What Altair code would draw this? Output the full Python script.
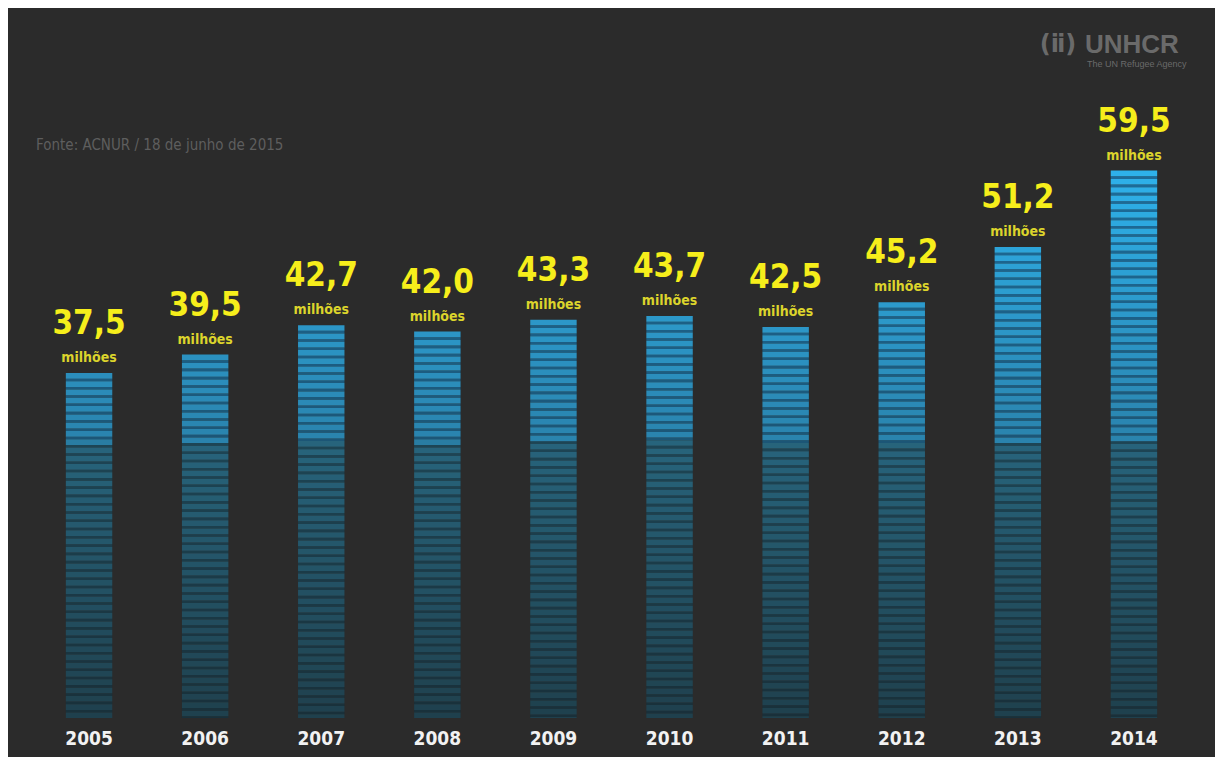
import altair as alt
import pandas as pd

years = ["2005", "2006", "2007", "2008", "2009", "2010", "2011", "2012", "2013", "2014"]
values = [37.5, 39.5, 42.7, 42.0, 43.3, 43.7, 42.5, 45.2, 51.2, 59.5]
unit_label = "milhões"
source_text = "Fonte: ACNUR / 18 de junho de 2015"

FONT = "Liberation Sans Narrow, DejaVu Sans Condensed, Arial Narrow, sans-serif"
BG = "#2b2b2b"

bars = pd.DataFrame({
    "year": years,
    "value": values,
    "label": [f"{v:.1f}".replace(".", ",") for v in values],
    "unit": [unit_label] * len(years),
})

# striped segments derived from each value (from the top of the bar down)
STEP = 0.9
STRIPE = 0.62
rows = []
for y, v in zip(years, values):
    top = v
    while top > 0:
        bottom = max(top - STRIPE, 0.0)
        rows.append({"year": y, "top": top, "bottom": bottom, "mid": (top + bottom) / 2, "kind": "stripe"})
        gb = max(bottom - (STEP - STRIPE), 0.0)
        if bottom > 0:
            rows.append({"year": y, "top": bottom, "bottom": gb, "mid": (bottom + gb) / 2, "kind": "gap"})
        top -= STEP
segs = pd.DataFrame(rows)

xscale = alt.Scale(domain=years, range=[23, 1184], paddingInner=0.6, paddingOuter=0.3)
yscale = alt.Scale(domain=[0, 60], range=[710, 158], nice=False, zero=False)

X = alt.X("year:N", scale=xscale, axis=None)

gaps = alt.Chart(segs).transform_filter(alt.datum.kind == "gap").mark_bar(cornerRadius=0).encode(
    x=X,
    y=alt.Y("top:Q", scale=yscale, axis=None),
    y2="bottom:Q",
    color=alt.Color("mid:Q", legend=None, scale=alt.Scale(
        domain=[0, 29.95, 30.0, 60], range=["#19303a", "#1d4555", "#1c5676", "#1c6d9c"], interpolate="rgb")),
)

stripes = alt.Chart(segs).transform_filter(alt.datum.kind == "stripe").mark_bar(cornerRadius=0).encode(
    x=X,
    y=alt.Y("top:Q", scale=yscale, axis=None),
    y2="bottom:Q",
    color=alt.Color("mid:Q", legend=None, scale=alt.Scale(
        domain=[0, 29.95, 30.0, 60], range=["#1f404d", "#27647c", "#2a83ad", "#2eb2ec"], interpolate="rgb")),
)

base = alt.Chart(bars)

nums = base.mark_text(font=FONT, fontWeight="bold", fontSize=33, color="#f6ee1b",
                      baseline="alphabetic", align="center", dy=-39).encode(
    x=X, y=alt.Y("value:Q", scale=yscale, axis=None), text="label:N")

units = base.mark_text(font=FONT, fontWeight="bold", fontSize=14, color="#dcd42c",
                       baseline="alphabetic", align="center", dy=-11).encode(
    x=X, y=alt.Y("value:Q", scale=yscale, axis=None), text="unit:N")

yrs = base.mark_text(font=FONT, fontWeight="bold", fontSize=19, color="#f2f2f2",
                     baseline="alphabetic", align="center", dy=27).encode(
    x=X, y=alt.datum(0, scale=yscale), text="year:N")

src = alt.Chart(pd.DataFrame({"t": [source_text]})).mark_text(
    font=FONT, fontSize=15, color="#5e5e5e", align="left", baseline="alphabetic").encode(
    x=alt.value(28), y=alt.value(142), text="t:N")

logo = alt.Chart(pd.DataFrame({"t": ["UNHCR"]})).mark_text(
    font="Liberation Sans, Arial, sans-serif", fontWeight="bold", fontSize=26, color="#6a6a6a",
    align="left", baseline="alphabetic").encode(x=alt.value(1077), y=alt.value(45), text="t:N")

logo_sub = alt.Chart(pd.DataFrame({"t": ["The UN Refugee Agency"]})).mark_text(
    font="Liberation Sans, Arial, sans-serif", fontSize=9, color="#6a6a6a",
    align="left", baseline="alphabetic").encode(x=alt.value(1079), y=alt.value(59), text="t:N")

logo_icon = alt.Chart(pd.DataFrame({"t": ["(ⅱ)"]})).mark_text(
    font="DejaVu Sans, sans-serif", fontWeight="bold", fontSize=24, color="#6a6a6a",
    align="center", baseline="middle").encode(x=alt.value(1050), y=alt.value(37), text="t:N")

chart = alt.layer(gaps, stripes, nums, units, yrs, src, logo, logo_sub, logo_icon).resolve_scale(
    color="independent"
).properties(
    width=1207, height=749, background=BG, padding=0,
    autosize=alt.AutoSizeParams(type="none"),
).configure_view(stroke=None)

chart.save("out.html", embed_options={"renderer": "svg", "actions": False})
